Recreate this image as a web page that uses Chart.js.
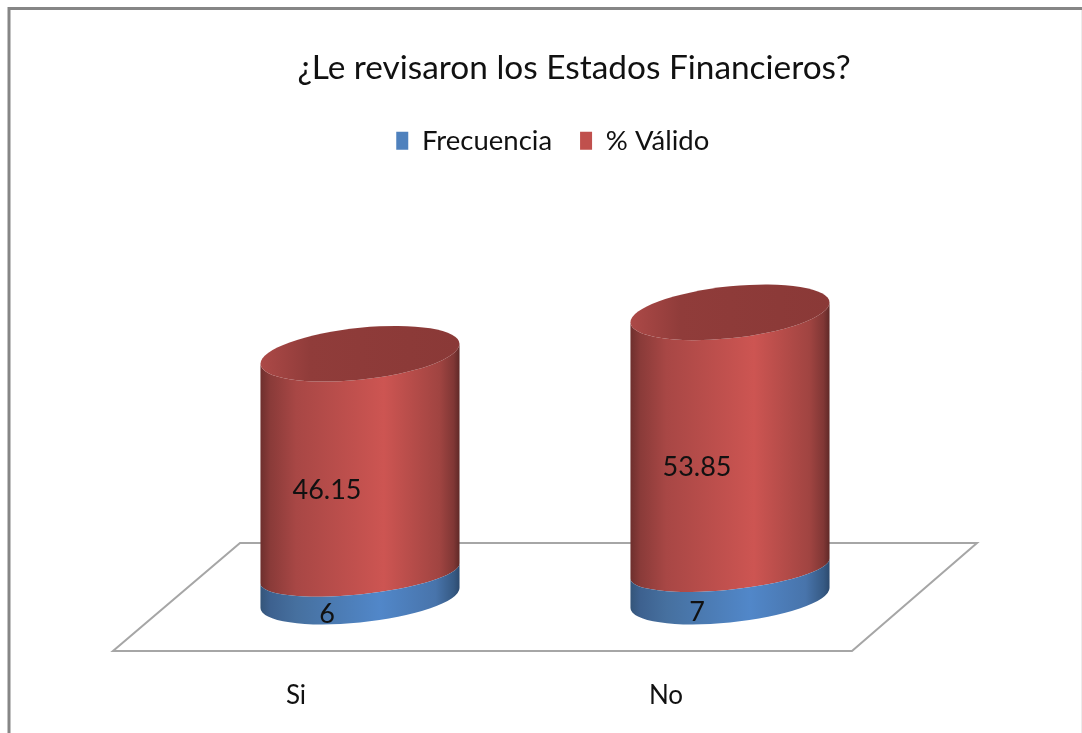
<!DOCTYPE html>
<html>
<head>
<meta charset="utf-8">
<script src="https://cdn.jsdelivr.net/npm/chart.js@4"></script>
<style>html,body{margin:0;padding:0;background:#fff}canvas{display:block}</style>
</head>
<body>
<canvas id="c" width="1082" height="733"></canvas>
<script>
const titleText = '¿Le revisaron los Estados Financieros?';
const categories = ['Si', 'No'];
const frecuencia = [6, 7];
const valido = [46.15, 53.85];
const seriesNames = ['Frecuencia', '% Válido'];
const valueLabels = [['6', '7'], ['46.15', '53.85']];

const FONT = 'Lato, Carlito, sans-serif';
const yMax = 91.9;
const SLOPE = 0.1, RY_TOP = 26, RY_RIM = 21, RY_BASE = 24.5, BASE_LIFT = 4;
const ramps = [
  [[0,'#345579'],[0.05,'#3d618f'],[0.18,'#46709f'],[0.6,'#5187c9'],[0.88,'#4874ab'],[0.97,'#365a84'],[1,'#2c4a6e']],
  [[0,'#6e2f2d'],[0.05,'#8a3b39'],[0.18,'#a84745'],[0.62,'#cd5552'],[0.9,'#a04441'],[0.97,'#803735'],[1,'#5f2927']]
];
const capStops = [[0,'#ac4947'],[0.25,'#903c3a'],[1,'#8a3937']];

function skew(ctx, cx, y, fn) {
  ctx.save();
  ctx.transform(1, -SLOPE, 0, 1, cx, y);
  fn();
  ctx.restore();
}
function hGrad(ctx, rx, stops) {
  const g = ctx.createLinearGradient(-rx, 0, rx, 0);
  stops.forEach(s => g.addColorStop(s[0], s[1]));
  return g;
}

const scene = {
  id: 'scene',
  beforeDraw(chart) {
    const ctx = chart.ctx, a = chart.chartArea;
    ctx.save();
    ctx.fillStyle = '#fff';
    ctx.fillRect(0, 0, chart.width, chart.height);
    ctx.strokeStyle = '#868686';
    ctx.lineWidth = 3;
    ctx.beginPath();
    ctx.moveTo(9, chart.height);
    ctx.lineTo(9, 8.5);
    ctx.lineTo(chart.width, 8.5);
    ctx.stroke();
    ctx.strokeStyle = '#ececec';
    ctx.lineWidth = 1;
    ctx.beginPath();
    ctx.moveTo(1081.5, 10);
    ctx.lineTo(1081.5, chart.height);
    ctx.stroke();
    // floor of the 3D plot
    ctx.strokeStyle = '#a6a6a6';
    ctx.lineWidth = 2;
    ctx.lineJoin = 'miter';
    ctx.beginPath();
    ctx.moveTo(a.left - 62, a.bottom + 49);
    ctx.lineTo(a.right - 63, a.bottom + 49);
    ctx.lineTo(a.right + 62, a.bottom - 59);
    ctx.lineTo(a.left + 65, a.bottom - 59);
    ctx.closePath();
    ctx.stroke();
    ctx.restore();
  },
  afterLayout(chart) {
    chart.titleBlock.left += 29; chart.titleBlock.right += 29;
    chart.legend.left += 7.75; chart.legend.right += 7.75;
  },
  beforeDatasetDraw(chart, args) {
    const ctx = chart.ctx, i = args.index;
    const last = chart.data.datasets.length - 1;
    const base = chart.scales.y.getPixelForValue(0);
    args.meta.data.forEach(bar => {
      const p = bar.getProps(['x', 'y', 'base', 'width'], true);
      const rx = p.width / 2;
      const yTop = p.y;
      const onFloor = Math.abs(p.base - base) < 0.5;
      const yBot = onFloor ? p.base - BASE_LIFT : p.base;
      const ryBot = onFloor ? RY_BASE : RY_RIM;
      const ryTop = i === last ? RY_TOP : RY_RIM;
      skew(ctx, p.x, 0, () => {
        ctx.beginPath();
        ctx.moveTo(-rx, yTop);
        ctx.lineTo(-rx, yBot);
        ctx.ellipse(0, yBot, rx, ryBot, 0, Math.PI, 0, true);
        ctx.lineTo(rx, yTop);
        ctx.ellipse(0, yTop, rx, ryTop, 0, 0, Math.PI, false);
        ctx.closePath();
        ctx.fillStyle = hGrad(ctx, rx, ramps[i]);
        ctx.fill();
        if (i === last) {
          ctx.beginPath();
          ctx.ellipse(0, yTop, rx, ryTop, 0, 0, Math.PI * 2);
          ctx.fillStyle = hGrad(ctx, rx, capStops);
          ctx.fill();
        }
      });
    });
    return false;
  },
  afterDatasetsDraw(chart) {
    const ctx = chart.ctx;
    ctx.save();
    ctx.fillStyle = '#111';
    ctx.font = '27px ' + FONT;
    ctx.textAlign = 'center';
    ctx.textBaseline = 'middle';
    chart.data.datasets.forEach((ds, i) => {
      chart.getDatasetMeta(i).data.forEach((bar, j) => {
        const p = bar.getProps(['x', 'y', 'base'], true);
        ctx.fillText(valueLabels[i][j], p.x - 33, (p.y + p.base) / 2 + 27);
      });
    });
    ctx.restore();
  }
};

new Chart(document.getElementById('c'), {
  type: 'bar',
  data: {
    labels: categories,
    datasets: [
      { label: seriesNames[0], data: frecuencia, backgroundColor: '#4f81bd', borderColor: '#4f81bd' },
      { label: seriesNames[1], data: valido, backgroundColor: '#c0504d', borderColor: '#c0504d' }
    ]
  },
  options: {
    responsive: false,
    animation: false,
    events: [],
    barPercentage: 1,
    categoryPercentage: 0.538,
    layout: { padding: { left: 175, right: 167, top: 0, bottom: 23 } },
    plugins: {
      tooltip: { enabled: false },
      title: {
        display: true,
        text: titleText,
        color: '#111',
        font: { family: FONT, size: 33.4, weight: 'normal' },
        padding: { top: 48, bottom: 11 }
      },
      legend: {
        display: true,
        position: 'top',
        labels: {
          color: '#111',
          font: { family: FONT, size: 27.5 },
          boxWidth: 12,
          boxHeight: 18,
          padding: 28
        }
      }
    },
    scales: {
      x: {
        stacked: true,
        grid: { display: false },
        border: { display: false },
        afterFit(scale) { scale.height = 108; },
        ticks: {
          color: '#111',
          font: { family: FONT, size: 26 },
          padding: 70,
          labelOffset: -64,
          maxRotation: 0,
          autoSkip: false
        }
      },
      y: {
        stacked: true,
        display: false,
        min: 0,
        max: yMax
      }
    }
  },
  plugins: [scene]
});
</script>
</body>
</html>
